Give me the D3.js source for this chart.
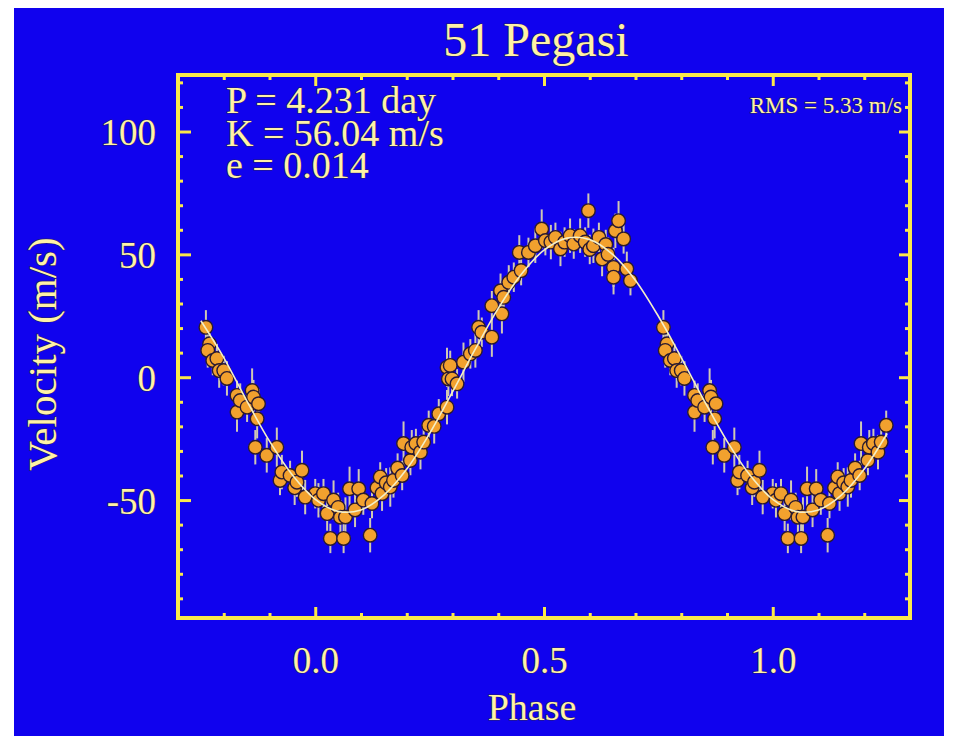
<!DOCTYPE html>
<html>
<head>
<meta charset="utf-8">
<script src="https://cdn.jsdelivr.net/npm/d3@7/dist/d3.min.js"></script>
<style>
html,body{margin:0;padding:0;background:#ffffff;}
svg{display:block;}
text{font-family:"Liberation Serif","DejaVu Serif",serif;}
</style>
</head>
<body>
<svg id="chart" width="958" height="736"></svg>
<script>
// ---------- data ----------
const titleText = "51 Pegasi";
const xTitle = "Phase";
const yTitle = "Velocity (m/s)";
const fitLines = ["P = 4.231 day", "K = 56.04 m/s", "e = 0.014"];
const rmsText = "RMS = 5.33 m/s";

const xMajorTicks = [0.0, 0.5, 1.0];
const xMinorTicks = [-0.2, -0.1, 0.1, 0.2, 0.3, 0.4, 0.6, 0.7, 0.8, 0.9, 1.1, 1.2];
const yMajorTicks = [-50, 0, 50, 100];
const yMinorTicks = [-90, -80, -70, -60, -40, -30, -20, -10, 10, 20, 30, 40, 60, 70, 80, 90, 110, 120];

// measured radial velocities (phase in [0,1))
const pointPhase = [0.000,0.007,0.018,0.026,0.033,0.040,0.050,0.055,0.062,0.066,0.075,0.087,0.095,0.105,0.120,0.124,0.135,0.142,0.146,0.155,0.164,0.171,0.180,0.190,0.193,0.208,0.211,0.220,0.230,0.237,0.248,0.260,0.270,0.288,0.288,0.291,0.295,0.299,0.310,0.324,0.339,0.350,0.357,0.364,0.386,0.386,0.405,0.408,0.412,0.423,0.434,0.446,0.450,0.466,0.481,0.495,0.503,0.515,0.525,0.536,0.545,0.557,0.565,0.579,0.590,0.597,0.600,0.608,0.620,0.627,0.635,0.640,0.652,0.652,0.656,0.663,0.674,0.681,0.689,0.761,0.769,0.765,0.776,0.785,0.790,0.800,0.807,0.829,0.829,0.836,0.851,0.862,0.865,0.869,0.873,0.876,0.894,0.916,0.923,0.927,0.945,0.955,0.960,0.971,0.978];
const pointVel = [-47.4,-50.1,-47.4,-55.5,-65.6,-50,-53,-57,-65.6,-56.9,-45.4,-54,-45.4,-50,-64.3,-51.4,-45,-40.6,-47.4,-43,-44.7,-42,-37,-40,-27,-33.9,-28.5,-27,-30.5,-26.4,-19.6,-20,-14.9,-12.2,4.0,-0.7,4.8,-0.7,-2.7,6.1,9.5,10.9,20.3,18.3,16.3,29.1,35.2,25.8,32.5,38.6,40.7,50.8,43.4,50.8,53.5,60.3,55.6,55,56.9,52.2,55,57.6,54.2,57.6,55,67.8,52,53.5,56.9,48.1,54,50,44.7,40.7,59.6,63.7,56.3,44.1,39.3,20.3,13.6,10.9,6.8,7.6,2.7,2.7,-0.5,-7.4,-14.2,-9.5,-12.2,-5.4,-8.1,-28.5,-16.9,-10.8,-31.8,-28.5,-42,-38.6,-40,-45,-42.7,-37.9,-48.8];
const pointErr = [6,7,6,7,6,8,6,7,6,8,9,7,8,6,7,6,7,6,7,6,8,7,6,6,9,6,7,6,7,6,6,7,6,7,8,7,6,7,6,8,6,7,7,6,8,6,7,8,6,7,6,7,6,6,7,8,6,7,6,7,6,7,6,7,6,7,6,7,6,7,6,7,8,7,7,8,6,7,6,7,6,7,6,6,7,6,7,6,8,7,6,9,7,7,8,6,7,8,6,7,6,7,6,8,7];

// fitted orbit curve
const curvePhase = [-0.25,-0.20,-0.15,-0.10,-0.05,0.00,0.05,0.10,0.15,0.20,0.25,0.30,0.35,0.40,0.45,0.50,0.55,0.60,0.65,0.70,0.75,0.80,0.85,0.90,0.95,1.00,1.05,1.10,1.15,1.20,1.25];
const curveVel = [23,8,-9.5,-26,-39.8,-49.7,-54.6,-54,-48,-37.4,-22.9,-6,11.5,28,41.8,51.7,56.6,56,50,39.4,24.8,8,-9.5,-26,-39.8,-49.7,-54.6,-54,-48,-37.4,-22.9];

// ---------- styles ----------
const BG = "#1002ee";
const FRAME = "#fbe94a";
const TXT = "#fff2a6";
const TXT_EDGE = "#26206a";
const PT_FILL = "#f2a12e";
const PT_EDGE = "#2a1a30";
const ERR = "#cfc7b4";
const CURVE = "#f4efc6";

const svg = d3.select("#chart");
svg.append("rect").attr("x",14).attr("y",8).attr("width",930).attr("height",728).attr("fill",BG);

const L = 178, R = 910, T = 75, B = 618;
const x = d3.scaleLinear().domain([-0.3, 1.3]).range([L, R]);
const y = d3.scaleLinear().domain([-98, 123]).range([B, T]);

// build displayed points: base cycle plus wrapped copies
const shown = [];
pointPhase.forEach((p, i) => {
  [-1, 0, 1].forEach(s => {
    const q = p + s;
    if (q >= -0.25 && q <= 1.25) shown.push({p: q, v: pointVel[i], e: pointErr[i]});
  });
});

const plot = svg.append("g");
plot.append("g").selectAll("line").data(shown).join("line")
  .attr("x1", d => x(d.p)).attr("x2", d => x(d.p))
  .attr("y1", d => y(d.v + d.e)).attr("y2", d => y(d.v - d.e))
  .attr("stroke", ERR).attr("stroke-width", 2);
plot.append("g").selectAll("circle").data(shown).join("circle")
  .attr("cx", d => x(d.p)).attr("cy", d => y(d.v)).attr("r", 6.8)
  .attr("fill", PT_FILL).attr("stroke", PT_EDGE).attr("stroke-width", 1.4);

const line = d3.line().x(d => x(d[0])).y(d => y(d[1])).curve(d3.curveCatmullRom);
plot.append("path").datum(curvePhase.map((p, i) => [p, curveVel[i]]))
  .attr("d", line).attr("fill", "none").attr("stroke", CURVE).attr("stroke-width", 1.6);

// ---------- axes (inward ticks on all four sides) ----------
function styleAxis(g) {
  g.select(".domain").remove();
  g.selectAll(".tick line").attr("stroke", FRAME).attr("stroke-width", 3);
}
const noLab = () => "";
svg.append("g").attr("transform", `translate(0,${B})`)
  .call(d3.axisBottom(x).tickValues(xMinorTicks).tickSize(-5).tickFormat(noLab)).call(styleAxis);
svg.append("g").attr("transform", `translate(0,${T})`)
  .call(d3.axisTop(x).tickValues(xMinorTicks).tickSize(-5).tickFormat(noLab)).call(styleAxis);
svg.append("g").attr("transform", `translate(0,${T})`)
  .call(d3.axisTop(x).tickValues(xMajorTicks).tickSize(-11).tickFormat(noLab)).call(styleAxis);
svg.append("g").attr("transform", `translate(${L},0)`)
  .call(d3.axisLeft(y).tickValues(yMinorTicks).tickSize(-5).tickFormat(noLab)).call(styleAxis);
svg.append("g").attr("transform", `translate(${R},0)`)
  .call(d3.axisRight(y).tickValues(yMinorTicks).tickSize(-5).tickFormat(noLab)).call(styleAxis);
svg.append("g").attr("transform", `translate(${R},0)`)
  .call(d3.axisRight(y).tickValues(yMajorTicks).tickSize(-11).tickFormat(noLab)).call(styleAxis);

const xAx = svg.append("g").attr("transform", `translate(0,${B})`)
  .call(d3.axisBottom(x).tickValues(xMajorTicks).tickSize(-11).tickPadding(29).tickFormat(d3.format(".1f")))
  .call(styleAxis);
xAx.selectAll(".tick text").attr("font-size", 37).attr("font-family", "Liberation Serif");

const yAx = svg.append("g").attr("transform", `translate(${L},0)`)
  .call(d3.axisLeft(y).tickValues(yMajorTicks).tickSize(-13).tickPadding(22).tickFormat(d => String(d)))
  .call(styleAxis);
yAx.selectAll(".tick text").attr("font-size", 37).attr("font-family", "Liberation Serif").attr("dy", "0.36em");

[xAx, yAx].forEach(g => g.selectAll(".tick text")
  .attr("fill", TXT).attr("stroke", TXT_EDGE).attr("stroke-width", 1.2).attr("paint-order", "stroke"));

// frame
svg.append("rect").attr("x", L).attr("y", T).attr("width", R - L).attr("height", B - T)
  .attr("fill", "none").attr("stroke", FRAME).attr("stroke-width", 4);

// ---------- text ----------
function txt(s, xx, yy, size, anchor) {
  return svg.append("text").attr("x", xx).attr("y", yy).attr("font-size", size)
    .attr("text-anchor", anchor || "start").attr("fill", TXT)
    .attr("stroke", TXT_EDGE).attr("stroke-width", 1.2).attr("paint-order", "stroke").text(s);
}
txt(titleText, 536, 56, 48, "middle");
fitLines.forEach((s, i) => txt(s, 226, 113 + i * 32.5, 38));
txt(rmsText, 902, 113, 23, "end");
txt(xTitle, 532, 720, 38, "middle");
txt(yTitle, 0, 0, 41, "middle").attr("transform", "translate(56,354) rotate(-90)");
</script>
</body>
</html>
